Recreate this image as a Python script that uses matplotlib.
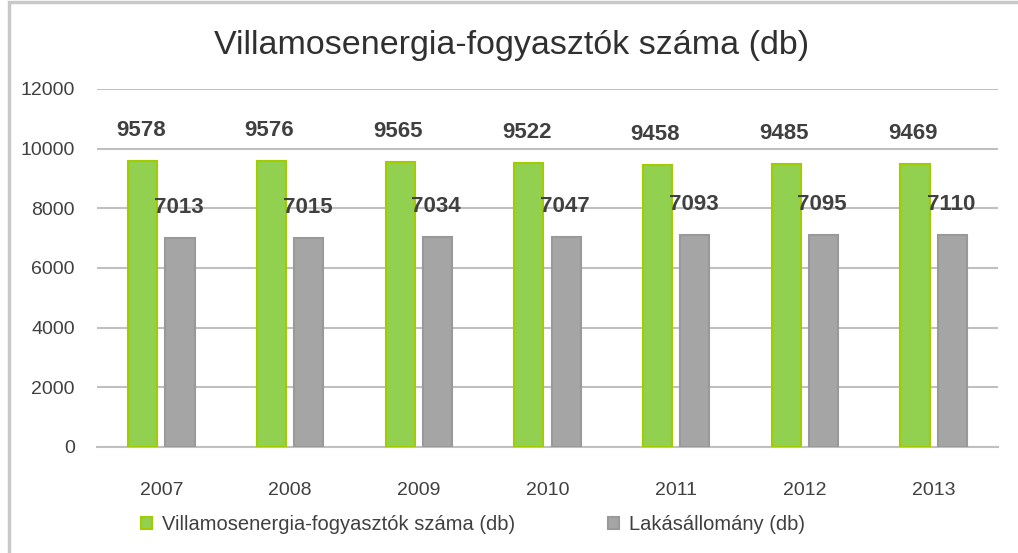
import matplotlib
matplotlib.use("Agg")
import matplotlib.pyplot as plt
from matplotlib.patches import Rectangle
import numpy as np

# consumers vs. housing stock per year
years = ["2007", "2008", "2009", "2010", "2011", "2012", "2013"]
consumers = [9578, 9576, 9565, 9522, 9458, 9485, 9469]
dwellings = [7013, 7015, 7034, 7047, 7093, 7095, 7110]
series_names = ["Villamosenergia-fogyasztók száma (db)", "Lakásállomány (db)"]
y_ticks = [0, 2000, 4000, 6000, 8000, 10000, 12000]

plt.rcParams["font.family"] = ["Liberation Sans", "DejaVu Sans"]
text_col = "#404040"

fig = plt.figure(figsize=(10.18, 5.53), dpi=100)
fig.add_artist(Rectangle((0.009, -0.05), 1.2, 1.05 - 0.0036, transform=fig.transFigure,
                         fill=False, edgecolor="#c8c8c8", linewidth=2.5))
ax = fig.add_axes([0.0953, 0.1917, 0.885, 0.6475])

x = np.arange(len(years))
w = 0.227
off = 0.145
b1 = ax.bar(x - off, consumers, w, color="#92d050", edgecolor="#a2cc00", linewidth=1.5,
            label=series_names[0], zorder=3)
b2 = ax.bar(x + off, dwellings, w, color="#a5a5a5", edgecolor="#999999", linewidth=1.5,
            label=series_names[1], zorder=3)

# value labels sit well above each bar
for xi, v in zip(x, consumers):
    ax.annotate(str(v), (xi - off, v), xytext=(-1.5, 22), textcoords="offset points",
                ha="center", va="center", fontsize=16, fontweight="bold", color=text_col)
for xi, v in zip(x, dwellings):
    ax.annotate(str(v), (xi + off, v), xytext=(-1, 22), textcoords="offset points",
                ha="center", va="center", fontsize=16, fontweight="bold", color=text_col)

ax.set_ylim(0, 12000)
ax.set_xlim(-0.5, len(years) - 0.5)
ax.set_yticks(y_ticks)
ax.set_yticklabels([str(t) for t in y_ticks])
ax.set_xticks(x)
ax.set_xticklabels(years)
ax.tick_params(axis="y", length=0, pad=16, labelsize=14, labelcolor=text_col)
ax.tick_params(axis="x", length=0, pad=25, labelsize=14, labelcolor=text_col)
ax.grid(axis="y", color="#c0c0c0", linewidth=1.5, zorder=0)
for s in ["top", "right", "left"]:
    ax.spines[s].set_visible(False)
ax.spines["bottom"].set_color("#c0c0c0")
ax.spines["bottom"].set_linewidth(1.5)

fig.text(0.503, 0.918, "Villamosenergia-fogyasztók száma (db)", ha="center", va="center",
         fontsize=24.5, color="#303030")

fig.legend(handles=[b1, b2], loc="center", bbox_to_anchor=(0.465, 1 - 525 / 553), ncol=2,
           frameon=False, fontsize=14.5, handlelength=0.55, handleheight=0.55,
           columnspacing=4.6, handletextpad=0.5, labelcolor=text_col)

plt.savefig("out.png", dpi=100)
